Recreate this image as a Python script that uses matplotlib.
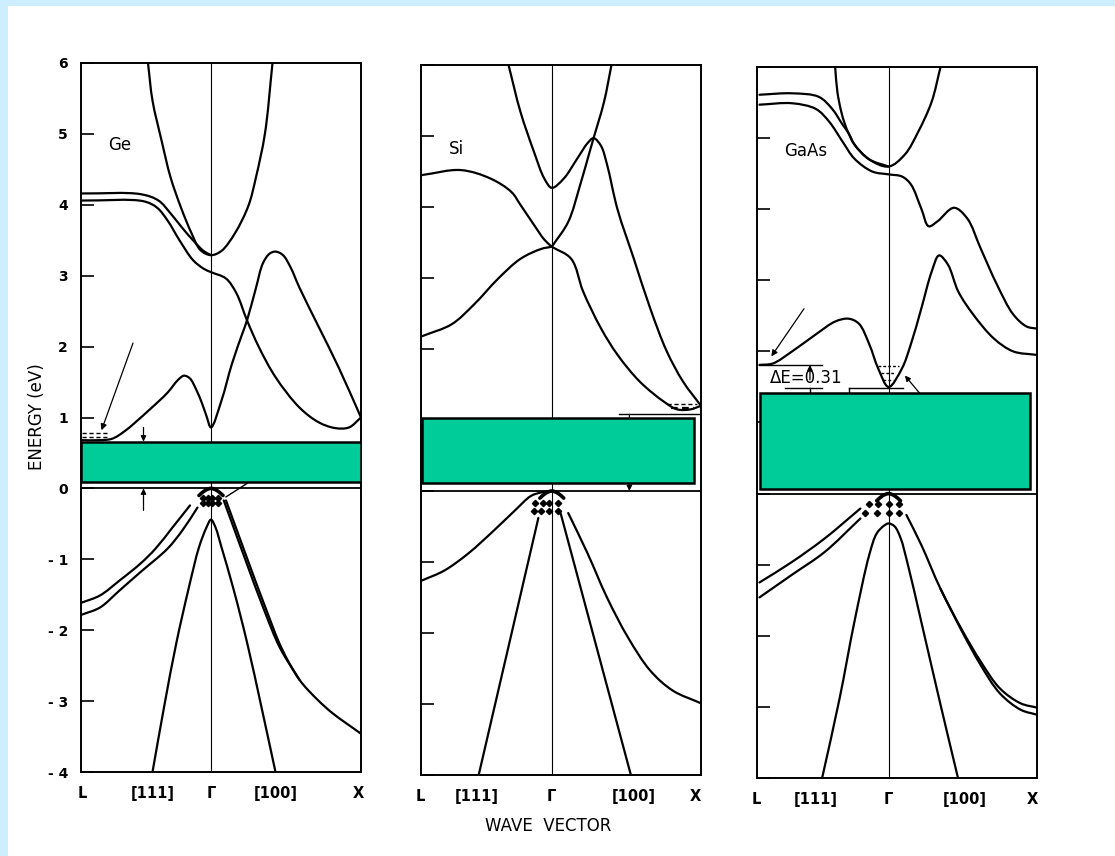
import matplotlib
matplotlib.use('Agg')
import matplotlib.pyplot as plt
import numpy as np
from matplotlib.patches import Rectangle, PathPatch
from matplotlib.path import Path

plt.rcParams['font.family'] = ['DejaVu Sans']

# ---------------- data (k: L=-0.87 .. Gamma=0 .. X=1 ; E in eV) ----------------
# Germanium
GE_C1_K = [-0.86, -0.75, -0.66, -0.58, -0.41, -0.29, -0.22, -0.18, -0.14, -0.10, -0.06, -0.03, 0.0, 0.07, 0.14, 0.21, 0.24, 0.30, 0.345, 0.39, 0.43, 0.48, 0.53, 0.59, 0.72, 0.85, 1.0]
GE_C1_E = [0.68, 0.68, 0.70, 0.80, 1.11, 1.35, 1.53, 1.59, 1.55, 1.40, 1.20, 1.02, 0.86, 1.24, 1.76, 2.19, 2.37, 2.83, 3.17, 3.31, 3.34, 3.29, 3.12, 2.83, 2.27, 1.71, 1.0]
GE_C2_K = [-0.86, -0.45, -0.36, -0.29, -0.21, -0.12, -0.05, 0.0, 0.10, 0.17, 0.24, 0.32, 0.43, 0.59, 0.72, 0.83, 0.92, 1.0]
GE_C2_E = [4.06, 4.05, 3.96, 3.78, 3.50, 3.22, 3.10, 3.05, 2.96, 2.75, 2.37, 1.99, 1.57, 1.14, 0.93, 0.85, 0.86, 1.0]
GE_C3_K = [-0.86, -0.47, -0.35, -0.27, -0.19, -0.12, -0.05, 0.0]
GE_C3_E = [4.16, 4.15, 4.06, 3.88, 3.67, 3.50, 3.35, 3.29]
GE_C4_K = [-0.42, -0.39, -0.33, -0.27, -0.20, -0.13, -0.07, 0.0, 0.07, 0.16, 0.25, 0.30, 0.36, 0.41]
GE_C4_E = [6.0, 5.47, 4.91, 4.39, 3.96, 3.60, 3.36, 3.29, 3.35, 3.60, 3.99, 4.39, 5.01, 6.0]
GE_V1_K = [-0.86, -0.74, -0.61, -0.47, -0.37, -0.26, -0.14]
GE_V1_E = [-1.61, -1.51, -1.30, -1.06, -0.85, -0.56, -0.24]
GE_V2_K = [-0.86, -0.74, -0.61, -0.47, -0.29, -0.19, -0.09]
GE_V2_E = [-1.78, -1.68, -1.44, -1.18, -0.85, -0.59, -0.27]
GE_SO_K = [-0.39, -0.31, -0.23, -0.15, -0.08, -0.03, 0.0, 0.03, 0.07, 0.15, 0.24, 0.34, 0.43]
GE_SO_E = [-4.0, -3.05, -2.17, -1.42, -0.83, -0.55, -0.44, -0.55, -0.83, -1.42, -2.17, -3.12, -4.0]
GE_V3_K = [0.10, 0.15, 0.25, 0.37, 0.47, 0.59, 0.71, 0.81, 1.0]
GE_V3_E = [-0.17, -0.46, -1.04, -1.72, -2.25, -2.70, -2.98, -3.17, -3.46]
GE_V4_K = [0.085, 0.135, 0.235, 0.355, 0.46, 0.59]
GE_V4_E = [-0.17, -0.46, -1.04, -1.72, -2.25, -2.70]
GE_DOT_K = [-0.05, -0.02, 0.01, 0.05, -0.05, -0.02, 0.01, 0.05]
GE_DOT_E = [-0.13, -0.13, -0.13, -0.13, -0.21, -0.21, -0.21, -0.21]
GE_GAP = [-0.865, 1.0, 0.09, 0.66]

# Silicon
SI_CP_K = [-0.29, -0.21, -0.12, -0.05, 0.0, 0.08, 0.17, 0.24, 0.28, 0.33, 0.37, 0.44, 0.55, 0.66, 0.77, 0.88, 1.0]
SI_CP_E = [6.0, 5.34, 4.78, 4.40, 4.27, 4.40, 4.68, 4.90, 4.97, 4.86, 4.60, 3.97, 3.27, 2.57, 1.97, 1.54, 1.20]
SI_C1_K = [-0.87, -0.61, -0.41, -0.27, -0.21, -0.12, -0.05, 0.0, 0.11, 0.19, 0.25, 0.28, 0.35, 0.40]
SI_C1_E = [4.45, 4.52, 4.40, 4.21, 4.03, 3.75, 3.54, 3.44, 3.79, 4.31, 4.75, 4.97, 5.48, 6.0]
SI_C2_K = [-0.87, -0.67, -0.52, -0.36, -0.21, -0.07, 0.0, 0.13, 0.21, 0.33, 0.44, 0.59, 0.75, 0.84, 0.93, 1.0]
SI_C2_E = [2.18, 2.35, 2.63, 2.99, 3.27, 3.41, 3.44, 3.27, 2.81, 2.29, 1.92, 1.54, 1.26, 1.15, 1.15, 1.20]
SI_V1_K = [-0.87, -0.72, -0.56, -0.39, -0.25, -0.14, -0.07, 0.0]
SI_V1_E = [-1.26, -1.12, -0.88, -0.56, -0.28, -0.07, -0.02, 0.0]
SI_V2_K = [-0.49, -0.09]
SI_V2_E = [-4.0, -0.38]
SI_V3_K = [0.06, 0.53]
SI_V3_E = [-0.32, -4.0]
SI_V4_K = [0.11, 0.24, 0.37, 0.51, 0.66, 0.81, 1.0]
SI_V4_E = [-0.31, -0.88, -1.50, -2.06, -2.53, -2.81, -2.99]
SI_DOT_K = [-0.11, -0.06, -0.02, 0.04, -0.12, -0.07, -0.02, 0.04]
SI_DOT_E = [-0.17, -0.17, -0.17, -0.17, -0.28, -0.28, -0.28, -0.28]
SI_GAP = [-0.87, 0.95, 0.11, 1.03]

# Gallium arsenide
GA_CP_K = [-0.36, -0.345, -0.32, -0.295, -0.27, -0.23, -0.13, 0.0, 0.11, 0.20, 0.29, 0.35]
GA_CP_E = [6.0, 5.65, 5.38, 5.20, 5.07, 4.91, 4.70, 4.60, 4.77, 5.09, 5.51, 6.0]
GA_C3_K = [-0.87, -0.65, -0.47, -0.38, -0.31, -0.27, -0.23, -0.13, 0.0]
GA_C3_E = [5.61, 5.63, 5.58, 5.41, 5.19, 5.07, 4.91, 4.70, 4.60]
GA_C2_K = [-0.87, -0.65, -0.49, -0.40, -0.31, -0.23, -0.11, 0.0, 0.09, 0.15, 0.22, 0.27, 0.33, 0.44, 0.53, 0.62, 0.73, 0.84, 0.93, 1.0]
GA_C2_E = [5.47, 5.49, 5.41, 5.23, 4.95, 4.71, 4.53, 4.49, 4.46, 4.35, 4.01, 3.76, 3.83, 4.02, 3.87, 3.45, 2.94, 2.52, 2.35, 2.32]
GA_C1_K = [-0.87, -0.78, -0.65, -0.49, -0.36, -0.27, -0.20, -0.13, -0.07, 0.0, 0.09, 0.15, 0.22, 0.29, 0.34, 0.40, 0.47, 0.57, 0.71, 0.84, 1.0]
GA_C1_E = [1.81, 1.83, 2.00, 2.24, 2.42, 2.46, 2.39, 2.10, 1.76, 1.50, 1.76, 2.10, 2.60, 3.12, 3.35, 3.22, 2.84, 2.52, 2.18, 2.00, 1.95]
GA_V1_K = [-0.87, -0.65, -0.43, -0.19]
GA_V1_E = [-1.25, -0.96, -0.63, -0.21]
GA_V2_K = [-0.87, -0.65, -0.43, -0.19]
GA_V2_E = [-1.46, -1.14, -0.82, -0.35]
GA_SO_K = [-0.45, -0.33, -0.23, -0.13, -0.08, -0.03, 0.0, 0.04, 0.08, 0.13, 0.22, 0.35, 0.47]
GA_SO_E = [-4.02, -2.88, -1.80, -0.86, -0.56, -0.45, -0.42, -0.46, -0.62, -1.0, -1.80, -2.97, -4.02]
GA_V3_K = [0.12, 0.22, 0.35, 0.49, 0.62, 0.75, 0.89, 1.0]
GA_V3_E = [-0.30, -0.72, -1.34, -1.90, -2.36, -2.74, -2.95, -3.01]
GA_V4_K = [0.35, 0.49, 0.62, 0.75, 0.89, 1.0]
GA_V4_E = [-1.34, -1.92, -2.41, -2.81, -3.04, -3.11]
GA_DOT_K = [-0.13, -0.07, 0.0, 0.07, -0.16, -0.08, 0.0, 0.07]
GA_DOT_E = [-0.14, -0.14, -0.14, -0.14, -0.27, -0.27, -0.27, -0.27]
GA_GAP = [-0.865, 0.95, 0.07, 1.41]
GA_LEVELS_E = [1.79, 1.69, 1.60]
GA_LEVELS_K0 = [-0.07, -0.05, -0.04]
GA_LEVELS_K1 = [0.07, 0.04, 0.03]

CAP_K = [-0.08, -0.04, 0.0, 0.04, 0.08]
CAP_E = [-0.10, -0.03, 0.0, -0.03, -0.10]

Y_TICKS = [-4, -3, -2, -1, 0, 1, 2, 3, 4, 5, 6]
Y_TICK_LABELS = ['- 4', '- 3', '- 2', '- 1', '0', '1', '2', '3', '4', '5', '6']
X_TICK_LABELS = ['L', '[111]', 'Γ', '[100]', 'X']
GE_XTICKS = [-0.86, -0.39, 0.0, 0.43, 0.98]
SI_XTICKS = [-0.88, -0.50, 0.0, 0.55, 0.96]
GA_XTICKS = [-0.89, -0.49, 0.0, 0.51, 0.97]

GREEN = '#00CC99'

# ---------------- helpers ----------------
SX, SY = 150.0, 71.0   # approx. pixels per unit, used only for the spline parameterisation


def smooth_path(k, e):
    P = np.column_stack([np.asarray(k, float) * SX, np.asarray(e, float) * SY])
    n = len(P)
    if n == 2:
        return Path(P / [SX, SY], [Path.MOVETO, Path.LINETO])
    ext = np.vstack([2 * P[0] - P[1], P, 2 * P[-1] - P[-2]])
    d = np.sqrt(np.linalg.norm(np.diff(ext, axis=0), axis=1))
    d[d < 1e-6] = 1e-6
    t = np.concatenate([[0.0], np.cumsum(d)])
    verts = [P[0]]
    codes = [Path.MOVETO]
    for i in range(1, n):
        p0, p1, p2, p3 = ext[i - 1], ext[i], ext[i + 1], ext[i + 2]
        t0, t1, t2, t3 = t[i - 1], t[i], t[i + 1], t[i + 2]
        m1 = (t2 - t1) * ((p1 - p0) / (t1 - t0) - (p2 - p0) / (t2 - t0) + (p2 - p1) / (t2 - t1))
        m2 = (t2 - t1) * ((p2 - p1) / (t2 - t1) - (p3 - p1) / (t3 - t1) + (p3 - p2) / (t3 - t2))
        verts += [p1 + m1 / 3.0, p2 - m2 / 3.0, p2]
        codes += [Path.CURVE4] * 3
    V = np.array(verts) / [SX, SY]
    return Path(V, codes)


def band(ax, k, e, lw=1.6, split=False):
    if split:
        k = list(k); e = list(e)
        i0 = k.index(0.0)
        parts = [(k[:i0 + 1], e[:i0 + 1]), (k[i0:], e[i0:])]
    else:
        parts = [(k, e)]
    for kk, ee in parts:
        ax.add_patch(PathPatch(smooth_path(kk, ee), fill=False, lw=lw, ec='black',
                               capstyle='round', joinstyle='round', zorder=3))


def gap(ax, g):
    ax.add_patch(Rectangle((g[0], g[2]), g[1] - g[0], g[3] - g[2], facecolor=GREEN,
                           edgecolor='black', lw=1.8, zorder=5))


def arrow(ax, xy, xytext, lw=0.9, ms=9, z=4):
    ax.annotate('', xy=xy, xytext=xytext,
                arrowprops=dict(arrowstyle='-|>', lw=lw, color='black',
                                mutation_scale=ms, shrinkA=0, shrinkB=0),
                zorder=z)


W, H = 1115, 856
fig = plt.figure(figsize=(W / 100, H / 100), dpi=100, facecolor='#cdeeff')
fig.patches.append(Rectangle((8 / W, 0), 1 - 8 / W, 1 - 6 / H, transform=fig.transFigure,
                             facecolor='white', edgecolor='none', zorder=-10))

pos = {
    'Ge': [80.5 / W, (H - 772) / H, 280.5 / W, 709 / H],
    'Si': [420.5 / W, (H - 775) / H, 280.5 / W, 710 / H],
    'GaAs': [756.5 / W, (H - 778) / H, 280.5 / W, 711 / H],
}
xt = {'Ge': GE_XTICKS, 'Si': SI_XTICKS, 'GaAs': GA_XTICKS}
label_pos = {'Ge': (-0.61, 4.84), 'Si': (-0.64, 4.82), 'GaAs': (-0.56, 4.82)}

axes = {}
for name in ['Ge', 'Si', 'GaAs']:
    ax = fig.add_axes(pos[name])
    ax.set_facecolor('white')
    ax.set_xlim(-0.87, 1.0)
    ax.set_ylim(-4, 6)
    for s in ax.spines.values():
        s.set_linewidth(1.4)
    ax.set_yticks(Y_TICKS)
    if name == 'Ge':
        ax.set_yticklabels(Y_TICK_LABELS, fontsize=10, fontweight='bold')
    else:
        ax.set_yticklabels([])
    ax.tick_params(axis='y', direction='in', length=9, width=1.2, pad=9, left=True, right=False)
    ax.set_xticks(xt[name])
    ax.set_xticklabels(X_TICK_LABELS, fontsize=10.5, fontweight='bold')
    ax.tick_params(axis='x', length=0, pad=10)
    ax.axvline(0, color='black', lw=0.8, zorder=2)
    ax.axhline(0, color='black', lw=1.3, zorder=2)
    ax.text(*label_pos[name], name, fontsize=12, ha='center', va='center')
    band(ax, CAP_K, CAP_E, lw=2.6)
    axes[name] = ax

# ---- Ge ----
ax = axes['Ge']
for k, e in [(GE_C1_K, GE_C1_E), (GE_C2_K, GE_C2_E), (GE_C3_K, GE_C3_E), (GE_C4_K, GE_C4_E),
             (GE_V1_K, GE_V1_E), (GE_V2_K, GE_V2_E), (GE_SO_K, GE_SO_E),
             (GE_V3_K, GE_V3_E), (GE_V4_K, GE_V4_E)]:
    band(ax, k, e)
ax.plot(GE_DOT_K, GE_DOT_E, 'D', color='black', ms=3.2, zorder=4)
gap(ax, GE_GAP)
arrow(ax, (-0.73, 0.82), (-0.52, 2.05))
ax.plot([-0.86, -0.68], [0.78, 0.78], color='black', lw=1.0, ls=(0, (3, 2)))
ax.plot([-0.86, -0.68], [0.72, 0.72], color='black', lw=1.0, ls=(0, (3, 2)))
arrow(ax, (-0.45, 0.66), (-0.45, 0.86), ms=8)
arrow(ax, (-0.45, 0.0), (-0.45, -0.31), ms=8)
ax.plot([0.10, 0.24], [-0.12, 0.07], color='black', lw=1.0)

# ---- Si ----
ax = axes['Si']
band(ax, SI_CP_K, SI_CP_E)
band(ax, SI_C1_K, SI_C1_E, split=True)
band(ax, SI_C2_K, SI_C2_E, split=True)
for k, e in [(SI_V1_K, SI_V1_E), (SI_V2_K, SI_V2_E), (SI_V3_K, SI_V3_E), (SI_V4_K, SI_V4_E)]:
    band(ax, k, e)
ax.plot(SI_DOT_K, SI_DOT_E, 'D', color='black', ms=3.2, zorder=4)
arrow(ax, (0.52, 0.0), (0.52, 1.08), ms=8, z=1)
gap(ax, SI_GAP)
ax.plot([0.45, 1.0], [1.08, 1.08], color='black', lw=1.0)
ax.plot([0.77, 0.97], [1.23, 1.23], color='black', lw=1.0, ls=(0, (3, 2)))
ax.plot([0.80, 0.95], [1.17, 1.17], color='black', lw=1.6, ls=(0, (3, 2)))

# ---- GaAs ----
ax = axes['GaAs']
for k, e in [(GA_CP_K, GA_CP_E), (GA_C3_K, GA_C3_E), (GA_C2_K, GA_C2_E), (GA_C1_K, GA_C1_E),
             (GA_V1_K, GA_V1_E), (GA_V2_K, GA_V2_E), (GA_SO_K, GA_SO_E),
             (GA_V3_K, GA_V3_E), (GA_V4_K, GA_V4_E)]:
    band(ax, k, e)
ax.plot(GA_DOT_K, GA_DOT_E, 'D', color='black', ms=3.2, zorder=4)
gap(ax, GA_GAP)
for e0, k0, k1 in zip(GA_LEVELS_E, GA_LEVELS_K0, GA_LEVELS_K1):
    ax.plot([k0, k1], [e0, e0], color='black', lw=1.0, ls=(0, (2, 1.5)))
ax.plot([-0.87, -0.45], [1.81, 1.81], color='black', lw=1.0)
ax.plot([-0.70, -0.45], [1.48, 1.48], color='black', lw=1.0)
ax.plot([-0.27, 0.10], [1.48, 1.48], color='black', lw=1.0)
ax.plot([-0.53, -0.53], [1.41, 1.48], color='black', lw=1.0)
ax.plot([-0.27, -0.27], [1.41, 1.48], color='black', lw=1.0)
arrow(ax, (-0.53, 1.81), (-0.53, 1.60), ms=8)
ax.text(-0.80, 1.63, 'ΔE=0.31', fontsize=12, ha='left', va='center')
arrow(ax, (-0.79, 1.93), (-0.57, 2.60))
arrow(ax, (0.11, 1.66), (0.21, 1.41), ms=8)

fig.text(37 / W, 1 - 417 / H, 'ENERGY (eV)', rotation=90, fontsize=12, ha='center', va='center')
fig.text(548 / W, 1 - 826 / H, 'WAVE  VECTOR', fontsize=12, ha='center', va='center')

fig.savefig('out.png', dpi=100, facecolor=fig.get_facecolor())
